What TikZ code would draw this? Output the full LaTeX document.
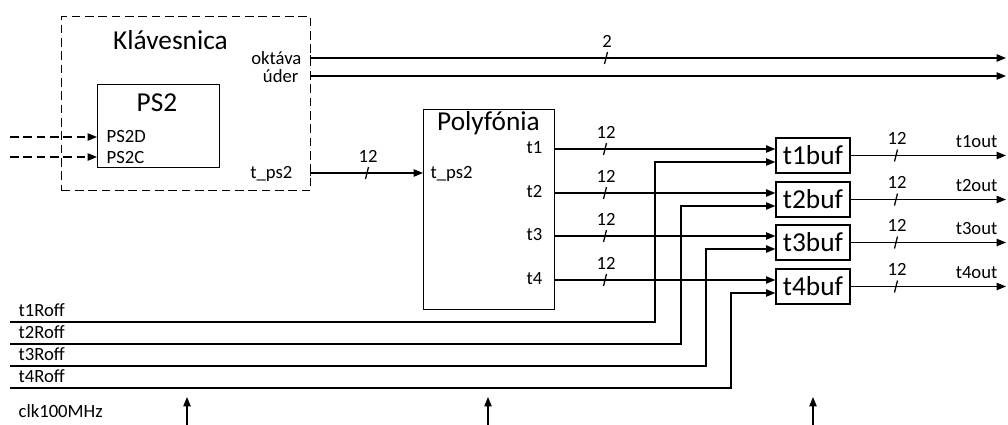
\documentclass[tikz,border=0pt]{standalone}
\usepackage{fontspec}
\setmainfont{Carlito}
\usetikzlibrary{arrows.meta}

\newcommand{\busmark}[4]{%
  \draw (#1-1.5,#2+6) -- (#1+1.5,#2-6);
  \node[lbl, anchor=base] (#4) at (#1+1,#2-11) {#3};}

\begin{document}
\begin{tikzpicture}[x=0.75pt, y=-0.75pt, line width=0.95pt,
  lbl/.style={inner sep=0pt, font=\fontsize{14}{16}\selectfont},
  big/.style={inner sep=0pt, font=\fontsize{20.5}{24}\selectfont},
  box/.style={draw, inner sep=0pt, anchor=north west},
  buf/.style={draw, inner sep=0pt, minimum width=55.5pt, minimum height=26.25pt, font=\fontsize{20.5}{24}\selectfont},
  dsh/.style={dash pattern=on 6.5pt off 3.5pt},
  arr/.style={-{Triangle[length=7pt,width=5.5pt]}},
  pin/.style={{Bar[width=4.5pt]}-{Triangle[length=7pt,width=5.5pt]}}]
  \useasboundingbox (0,0) rectangle (1008,425);

  \node[box, dsh, minimum width=186.75pt, minimum height=130.5pt] (kb) at (61,16) {};
  \node[big, anchor=base] (kbt) at (170.5,49) {Klávesnica};
  \node[box, minimum width=91.5pt, minimum height=62.25pt] (ps2) at (97,84) {};
  \node[big, anchor=base] (ps2t) at (157,111) {PS2};
  \node[lbl, anchor=base west] (ps2d) at (106,142) {PS2D};
  \node[lbl, anchor=base west] (ps2c) at (106,163) {PS2C};
  \node[lbl, anchor=base east] (okt) at (302,64) {oktáva};
  \node[lbl, anchor=base east] (uder) at (299,82) {úder};
  \node[lbl, anchor=base east] (kbps2) at (293,178) {t\_ps2};

  \coordinate (din) at (10,137);
  \coordinate (cin) at (10,157);
  \draw[arr, dsh] (din) -- (ps2.west |- din);
  \draw[arr, dsh] (cin) -- (ps2.west |- cin);

  \coordinate (okto) at (310,58);
  \coordinate (okte) at (1006,58);
  \coordinate (udo) at (310,76);
  \coordinate (ude) at (1006,76);
  \draw[pin] (okto) -- (okte);
  \draw[pin] (udo) -- (ude);
  \busmark{606}{58}{2}{okb}

  \node[box, minimum width=98.25pt, minimum height=150pt] (poly) at (423,109) {};
  \node[big, anchor=base] (polyt) at (488.5,130) {Polyfónia};
  \node[lbl, anchor=base west] (polyin) at (430,178) {t\_ps2};
  \coordinate (kbo) at (310,173);
  \draw[pin] (kbo) -- (poly.west |- kbo);
  \busmark{367}{173}{12}{psb}

  \foreach \i/\ty/\ry/\rx in {1/149/322/655, 2/193/344/681, 3/236/366/706, 4/280/388/731} {
    \node[lbl, anchor=base east] (pl\i) at (543,\ty+4.5) {t\i};
    \coordinate (p\i) at (554,\ty);
    \node[buf] (b\i) at (813,\ty+6.5) {t\i buf};
    \draw[arr] (p\i) -- (b\i.west |- p\i);
    \busmark{605}{\ty}{12}{pb\i}
    \coordinate (r\i) at (10,\ry);
    \coordinate (k\i) at (\rx,\ty+13);
    \draw[arr] (r\i) -| (k\i) -- (k\i -| b\i.west);
    \node[lbl, anchor=base west] (rl\i) at (18,\ry-6) {t\i Roff};
    \coordinate (o\i) at (1006,\ty+6.5);
    \draw[arr] (b\i) -- (o\i);
    \busmark{896}{\ty+6.5}{12}{ob\i}
    \node[lbl, anchor=base east] (ol\i) at (998,\ty-2) {t\i out};
  }

  \node[lbl, anchor=base west] (clk) at (18,417) {clk100MHz};
  \foreach \cx in {187,488,813} {
    \coordinate (clk\cx) at (\cx,425);
    \coordinate (clke\cx) at (\cx,397);
    \draw[arr] (clk\cx) -- (clke\cx);
  }
\end{tikzpicture}
\end{document}
